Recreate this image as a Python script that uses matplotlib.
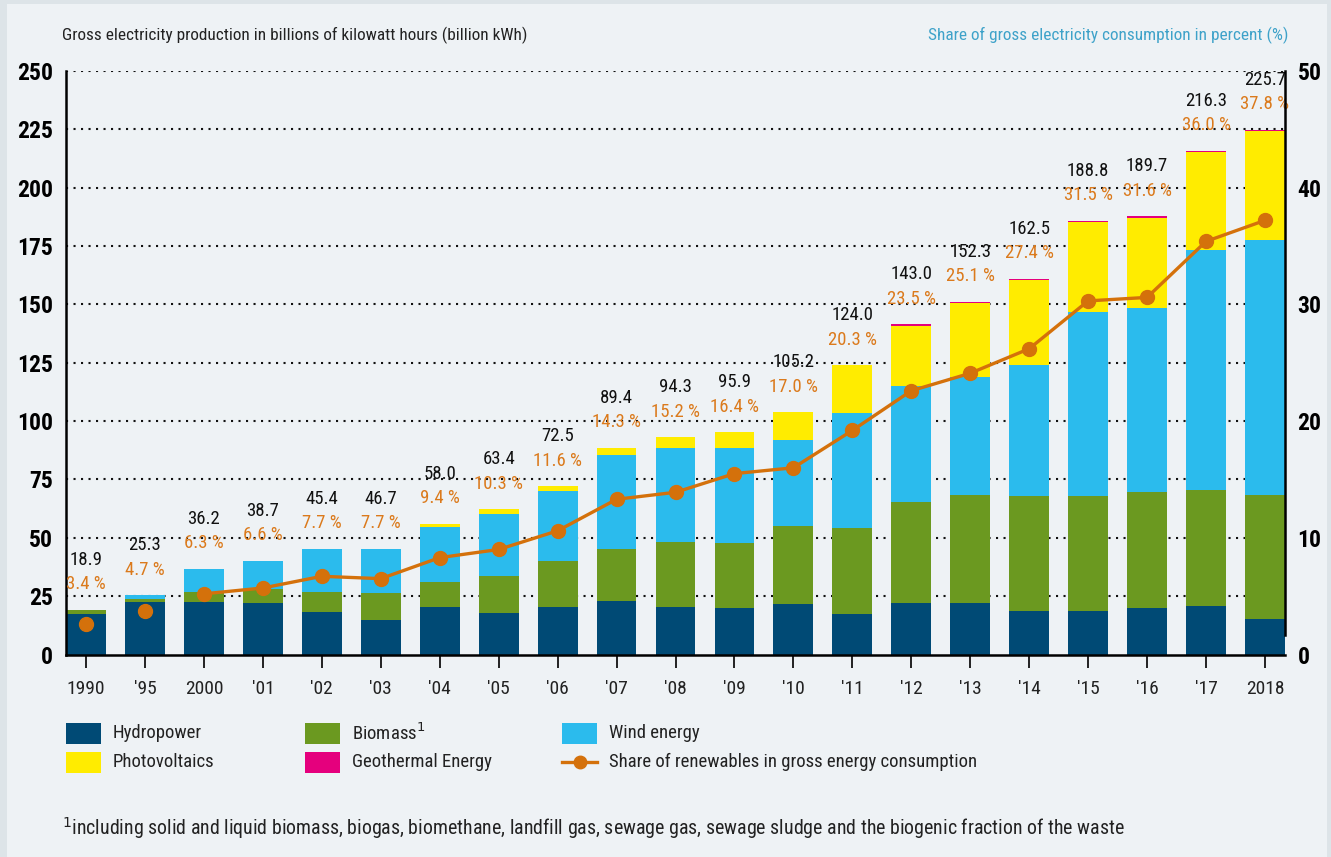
import numpy as np
import matplotlib.pyplot as plt
from matplotlib import font_manager as fm
from matplotlib.patches import Rectangle
from matplotlib.lines import Line2D

# pick a narrow sans if one is installed, otherwise a condensed cut of a known family
entries = fm.fontManager.ttflist
names = {f.name for f in entries}
family, stretch = 'DejaVu Sans', 'normal'
for cand in ['Roboto Condensed', 'Open Sans Condensed', 'Liberation Sans Narrow',
             'Noto Sans Condensed', 'DejaVu Sans Condensed']:
    if cand in names:
        family = cand
        break
else:
    for fam in ['Open Sans', 'Noto Sans', 'Roboto', 'DejaVu Sans']:
        if any(f.name == fam and str(f.stretch) in ('condensed', 'semi-condensed', '75', '87')
               for f in entries):
            family, stretch = fam, 'condensed'
            break
plt.rcParams['font.family'] = [family, 'DejaVu Sans']
plt.rcParams['font.stretch'] = stretch

years = ['1990', "'95", '2000', "'01", "'02", "'03", "'04", "'05", "'06", "'07", "'08",
         "'09", "'10", "'11", "'12", "'13", "'14", "'15", "'16", "'17", '2018']

# billion kWh
hydro = [17.3, 22.5, 22.5, 22.0, 18.2, 14.8, 20.5, 17.8, 20.3, 22.8, 20.3,
         19.9, 21.6, 17.3, 22.2, 22.2, 18.5, 18.5, 20.1, 20.9, 15.0]
biomass = [1.7, 1.1, 4.3, 6.0, 8.6, 11.5, 10.5, 15.8, 19.7, 22.3, 27.9,
           27.9, 33.4, 36.9, 43.2, 46.1, 49.5, 49.5, 49.6, 49.4, 53.3]
wind = [0.0, 1.7, 9.8, 12.0, 18.4, 18.9, 23.7, 26.5, 30.0, 40.3, 40.2,
        40.6, 36.8, 49.2, 49.5, 50.4, 55.9, 78.7, 78.6, 103.2, 109.4]
pv = [0.0, 0.0, 0.0, 0.0, 0.0, 0.0, 1.2, 2.1, 2.1, 3.0, 4.7,
      6.8, 12.0, 20.5, 25.9, 31.9, 36.5, 38.5, 38.8, 41.7, 46.5]
geo = [0.0, 0.0, 0.0, 0.0, 0.0, 0.0, 0.0, 0.0, 0.0, 0.0, 0.0,
       0.0, 0.0, 0.0, 0.6, 0.6, 0.6, 0.7, 0.6, 0.6, 0.6]

totals = [18.9, 25.3, 36.2, 38.7, 45.4, 46.7, 58.0, 63.4, 72.5, 89.4, 94.3,
          95.9, 105.2, 124.0, 143.0, 152.3, 162.5, 188.8, 189.7, 216.3, 225.7]
share_labels = [3.4, 4.7, 6.3, 6.6, 7.7, 7.7, 9.4, 10.3, 11.6, 14.3, 15.2,
                16.4, 17.0, 20.3, 23.5, 25.1, 27.4, 31.5, 31.6, 36.0, 37.8]
# share of gross consumption in %, as plotted on the right axis
share = [2.6, 3.7, 5.2, 5.7, 6.7, 6.5, 8.3, 9.0, 10.6, 13.3, 13.9,
         15.5, 16.0, 19.2, 22.6, 24.1, 26.2, 30.3, 30.6, 35.4, 37.2]

c_hydro = '#004a75'
c_bio = '#6b9920'
c_wind = '#2bbbed'
c_pv = '#ffec00'
c_geo = '#e5007d'
c_line = '#d4710b'
c_label = '#db7a1c'
c_blue = '#3ea2c9'

fig = plt.figure(figsize=(13.31, 8.57), dpi=100, facecolor='#dde4e8')
fig.patches.append(Rectangle((7/1331, 0), 1320/1331, 853/857, transform=fig.transFigure,
                             facecolor='#eef2f5', edgecolor='none', zorder=-10))

ax = fig.add_axes([66/1331, 1 - 654.5/857, 1219/1331, 583.5/857])
ax.set_facecolor('none')
ax2 = ax.twinx()

x = np.arange(len(years))
w = 0.675
bottom = np.zeros(len(years))
for vals, col in [(hydro, c_hydro), (biomass, c_bio), (wind, c_wind), (pv, c_pv), (geo, c_geo)]:
    ax.bar(x, vals, w, bottom=bottom, color=col, edgecolor='none', zorder=2)
    bottom = bottom + np.array(vals)

for i in range(len(years)):
    ax.annotate(f'{share_labels[i]:.1f} %', (x[i], bottom[i]), xytext=(0, 18.5),
                textcoords='offset points', ha='center', va='center',
                fontsize=13.5, color=c_label)
    ax.annotate(f'{totals[i]:.1f}', (x[i], bottom[i]), xytext=(0, 36),
                textcoords='offset points', ha='center', va='center',
                fontsize=13.5, color='#111111')

ax.set_xlim(-0.34, len(years) - 1 + 0.34)
ax.set_ylim(0, 250)
ax.set_yticks(np.arange(0, 251, 25))
for v in np.arange(25, 251, 25):
    ax.axhline(v, color='#111111', lw=1.5, ls=(0, (1, 2.6)), zorder=1)
ax.set_xticks(x)
ax.set_xticklabels(years, fontsize=14, color='#222222')
ax.tick_params(axis='x', length=9, width=1.3, color='#111111', pad=9)
ax.tick_params(axis='y', length=0, pad=9.5)
for lab in ax.get_yticklabels():
    lab.set_fontsize(17)
    lab.set_fontweight('bold')

for sp in ['top', 'right']:
    ax.spines[sp].set_visible(False)
ax.spines['left'].set_linewidth(1.8)
ax.spines['bottom'].set_linewidth(1.8)

# share line: 1990 and 1995 as loose dots, connected from 2000 on
ax2.plot(x[2:], share[2:], color=c_line, lw=2.4, marker='o', ms=10, zorder=5)
ax2.plot(x[:2], share[:2], color=c_line, lw=0, marker='o', ms=10, zorder=5)
ax2.set_ylim(0, 50)
ax2.set_yticks(np.arange(0, 51, 10))
ax2.tick_params(axis='y', length=0, pad=9)
for lab in ax2.get_yticklabels():
    lab.set_fontsize(17)
    lab.set_fontweight('bold')
for sp in ['top', 'left', 'bottom']:
    ax2.spines[sp].set_visible(False)
ax2.spines['right'].set_linewidth(1.8)
ax2.spines['right'].set_bounds(1.7, 50)

fig.text(62/1331, 1 - 35/857, 'Gross electricity production in billions of kilowatt hours (billion kWh)',
         fontsize=12.4, color='#222222', va='center', ha='left')
fig.text(1288/1331, 1 - 35/857, 'Share of gross electricity consumption in percent (%)',
         fontsize=12.4, color=c_blue, va='center', ha='right')

# legend drawn by hand
items = [(66, 733, c_hydro, 'Hydropower'), (305, 733, c_bio, 'Biomass$^{1}$'),
         (562, 733, c_wind, 'Wind energy'), (66, 762, c_pv, 'Photovoltaics'),
         (305, 762, c_geo, 'Geothermal Energy')]
for px, py, col, txt in items:
    fig.patches.append(Rectangle((px/1331, 1 - (py + 10.5)/857), 35/1331, 21/857,
                                 transform=fig.transFigure, facecolor=col, edgecolor='none'))
    fig.text((px + 47)/1331, 1 - py/857, txt, fontsize=13.5, color='#222222', va='center', ha='left')
fig.lines.append(Line2D([562/1331, 597/1331], [1 - 762/857, 1 - 762/857], transform=fig.transFigure,
                        color=c_line, lw=2.4))
fig.lines.append(Line2D([579.5/1331], [1 - 762/857], transform=fig.transFigure,
                        color=c_line, marker='o', ms=9, lw=0))
fig.text(609/1331, 1 - 762/857, 'Share of renewables in gross energy consumption',
         fontsize=13.5, color='#222222', va='center', ha='left')

fig.text(62/1331, 1 - 828/857, '$^{1}$including solid and liquid biomass, biogas, biomethane, landfill gas, '
         'sewage gas, sewage sludge and the biogenic fraction of the waste',
         fontsize=14.3, color='#222222', va='center', ha='left')

fig.savefig('out.png', dpi=100, facecolor=fig.get_facecolor())
